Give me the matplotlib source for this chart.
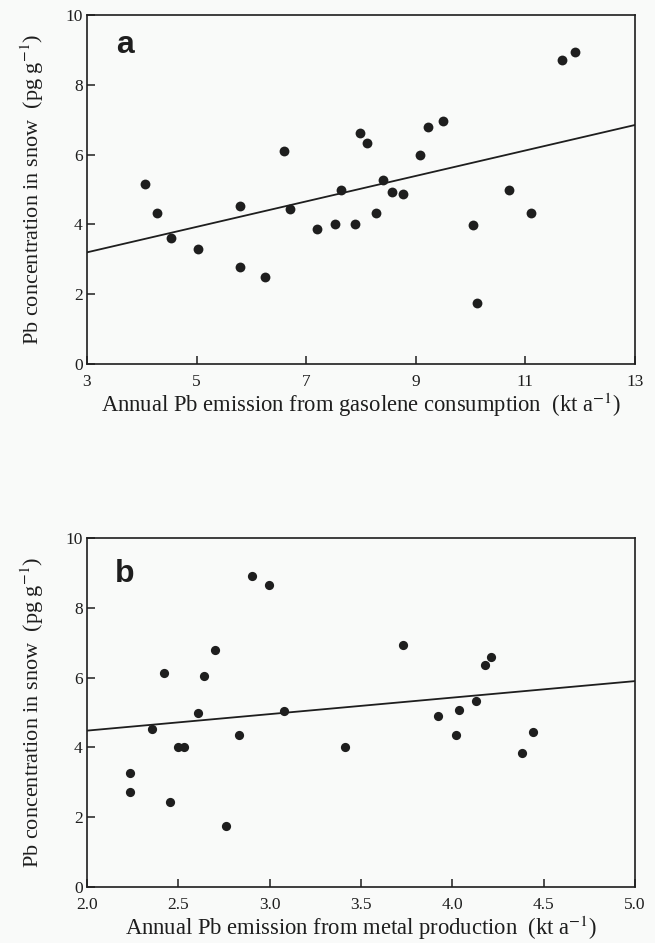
import matplotlib
matplotlib.use("Agg")
import matplotlib.pyplot as plt
import numpy as np

plt.rcParams['font.family'] = ['Liberation Serif', 'DejaVu Serif']
plt.rcParams['mathtext.fontset'] = 'stix'

# panel a: gasolene emission vs snow Pb
gas_x = [4.05, 4.28, 4.54, 5.03, 5.79, 5.79, 6.25, 6.60, 6.70, 7.20, 7.53, 7.64, 7.89, 7.99,
         8.11, 8.27, 8.41, 8.56, 8.76, 9.07, 9.22, 9.49, 10.04, 10.11, 10.70, 11.10, 11.67, 11.91]
gas_y = [5.17, 4.33, 3.61, 3.29, 4.52, 2.78, 2.49, 6.11, 4.44, 3.86, 4.01, 5.00, 4.01, 6.61,
         6.33, 4.33, 5.27, 4.94, 4.86, 6.00, 6.80, 6.97, 3.97, 1.75, 4.98, 4.33, 8.72, 8.95]
gas_fit = [0.365, 2.105]  # slope, intercept

# panel b: metal production emission vs snow Pb
met_x = [2.905, 2.995, 2.70, 2.42, 2.64, 2.61, 2.355, 3.08, 2.83, 2.50, 2.53, 3.41, 2.236,
         2.236, 2.456, 2.76, 3.73, 4.21, 4.18, 4.13, 4.035, 3.92, 4.02, 4.44, 4.38]
met_y = [8.91, 8.65, 6.79, 6.14, 6.05, 4.99, 4.54, 5.04, 4.36, 4.00, 4.00, 4.00, 3.26,
         2.71, 2.43, 1.75, 6.92, 6.60, 6.36, 5.34, 5.07, 4.91, 4.36, 4.45, 3.85]
met_fit = [0.473, 3.534]

ink = '#1e1e1e'
bg = '#f9faf9'

fig = plt.figure(figsize=(6.55, 9.43), dpi=100, facecolor=bg)
ax1 = fig.add_axes([0.1328, 0.614, 0.8366, 0.370])
ax2 = fig.add_axes([0.1328, 0.0594, 0.8366, 0.3701])

def style(ax, xlim, xticks, xlabels):
    ax.set_facecolor(bg)
    ax.set_xlim(*xlim)
    ax.set_ylim(0, 10)
    ax.set_xticks(xticks)
    ax.set_xticklabels(xlabels)
    ax.set_yticks([0, 2, 4, 6, 8, 10])
    ax.tick_params(direction='in', length=6, width=1.1, color=ink, labelcolor=ink,
                   labelsize=12.5, top=False, right=False)
    ax.tick_params(axis='x', pad=7)
    ax.tick_params(axis='y', pad=3)
    for s in ax.spines.values():
        s.set_linewidth(1.2)
        s.set_color(ink)
    ax.set_ylabel('Pb concentration in snow  (pg g$^{-1}$)', fontsize=16, color=ink, labelpad=14)

style(ax1, (3, 13), [3, 5, 7, 9, 11, 13], ['3', '5', '7', '9', '11', '13'])
ax1.scatter(gas_x, gas_y, s=50, color=ink, zorder=3, linewidths=0)
xl = np.array([3, 13])
ax1.plot(xl, gas_fit[0] * xl + gas_fit[1], color=ink, lw=1.3)
ax1.set_xlabel('Annual Pb emission from gasolene consumption  (kt a$^{-1}$)', fontsize=16.3,
               color=ink, labelpad=1)
ax1.text(0.069, 0.914, 'a', transform=ax1.transAxes, fontsize=23, fontweight='bold',
         family='Liberation Sans', color=ink, ha='center', va='center')

style(ax2, (2, 5), [2.0, 2.5, 3.0, 3.5, 4.0, 4.5, 5.0],
      ['2.0', '2.5', '3.0', '3.5', '4.0', '4.5', '5.0'])
ax2.scatter(met_x, met_y, s=44, color=ink, zorder=3, linewidths=0)
xl = np.array([2, 5])
ax2.plot(xl, met_fit[0] * xl + met_fit[1], color=ink, lw=1.3)
ax2.set_xlabel('Annual Pb emission from metal production  (kt a$^{-1}$)', fontsize=16.3,
               color=ink, labelpad=1)
ax2.text(0.068, 0.897, 'b', transform=ax2.transAxes, fontsize=23, fontweight='bold',
         family='Liberation Sans', color=ink, ha='center', va='center')

fig.savefig('out.png', dpi=100, facecolor=bg)
